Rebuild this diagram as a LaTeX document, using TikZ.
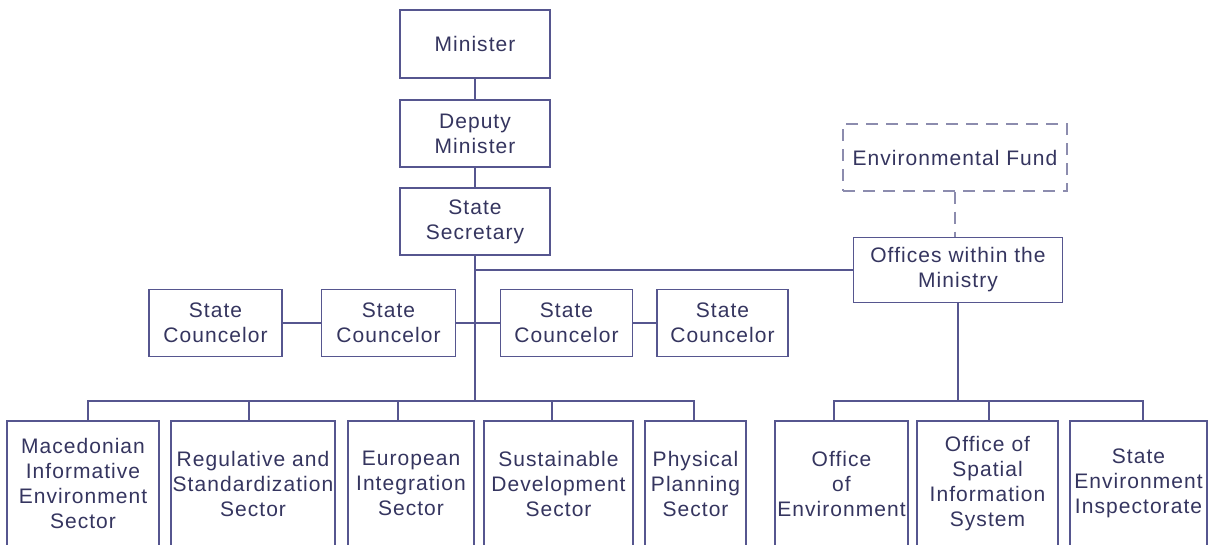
\documentclass[tikz,border=0pt]{standalone}
\usepackage{fontspec}
\setmainfont{Liberation Sans}[LetterSpace=5]

\definecolor{orgline}{HTML}{56568F}
\definecolor{orgtext}{HTML}{35355F}
\definecolor{fundline}{HTML}{8C8CAE}

\tikzset{
    wh/.style 2 args={minimum width=#1*0.75pt, minimum height=#2*0.75pt},
    box/.style={draw=orgline, line width=1.1pt, inner sep=0pt, align=center, text=orgtext,
        font=\fontsize{15.75pt}{18.75pt}\selectfont},
    fundbox/.style={box, draw=fundline, dash pattern=on 9pt off 6pt},
    link/.style={draw=orgline, line width=1.1pt},
    fundlink/.style={draw=fundline, line width=1.1pt, dash pattern=on 9pt off 6pt},
}

\begin{document}
\begin{tikzpicture}[x=0.75pt, y=-0.75pt]
        \useasboundingbox (0,0) rectangle (1209,544);
        \fill[white] (0,0) rectangle (1209,544);
        \clip (0,0) rectangle (1209,544);

        \node[box, wh={150}{68}] (minister) at (475,44) {Minister};
        \node[box, wh={150}{67}] (deputy) at (475,133.5) {Deputy\\Minister};
        \node[box, wh={150}{67}] (secretary) at (475,221.5) {State\\Secretary};

        \node[fundbox, wh={224}{67}] (fund) at (955,157.5) {Environmental Fund};
        \node[box, wh={209}{65}] (offices) at (958,270) {Offices within the\\Ministry};

        \node[box, wh={133}{67}] (coun1) at (215.5,323) {State\\Councelor};
        \node[box, wh={134}{67}] (coun2) at (388.5,323) {State\\Councelor};
        \node[box, wh={132}{67}] (coun3) at (566.5,323) {State\\Councelor};
        \node[box, wh={131}{67}] (coun4) at (722.5,323) {State\\Councelor};

        \node[box, wh={152}{125}] (sec1) at (83,483.5) {Macedonian\\Informative\\Environment\\Sector};
        \node[box, wh={164}{125}] (sec2) at (253,483.5) {Regulative and\\Standardization\\Sector};
        \node[box, wh={126}{125}] (sec3) at (411,483.5) {European\\Integration\\Sector};
        \node[box, wh={149}{125}] (sec4) at (558.5,483.5) {Sustainable\\Development\\Sector};
        \node[box, wh={101}{125}] (sec5) at (695.5,483.5) {Physical\\Planning\\Sector};

        \node[box, wh={133}{125}] (off1) at (841.5,483.5) {Office\\of\\Environment};
        \node[box, wh={141}{125}] (off2) at (987.5,483.5) {Office of\\Spatial\\Information\\System};
        \node[box, wh={137}{125}] (off3) at (1138.5,483.5) {State\\Environment\\Inspectorate};

        \coordinate (lbus) at (475,401);
        \coordinate (rbus) at (958,401);

        \draw[link] (minister) -- (deputy);
        \draw[link] (deputy) -- (secretary);
        \draw[link] (secretary) -- (lbus);
        \draw[link] (offices.west) -- (offices.west -| secretary);
        \draw[fundlink] (fund.south) -- (fund.south |- offices.north);
        \draw[link] (offices) -- (rbus);

        \draw[link] (coun1) -- (coun2);
        \draw[link] (coun2) -- (coun3);
        \draw[link] (coun3) -- (coun4);

        \foreach \n/\dx in {sec1/5, sec2/-4, sec3/-13, sec4/-6.5, sec5/-1.5}
            \draw[link] ([xshift=\dx*0.75pt]\n.north) |- (lbus);
        \foreach \n/\dx in {off1/-7.5, off2/1.5, off3/4.5}
            \draw[link] ([xshift=\dx*0.75pt]\n.north) |- (rbus);

    \end{tikzpicture}
\end{document}
